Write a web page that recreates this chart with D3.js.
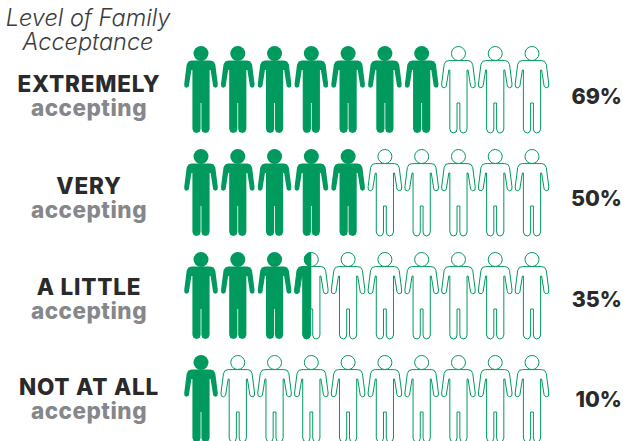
<!DOCTYPE html>
<html>
<head>
<meta charset="utf-8">
<script src="https://cdn.jsdelivr.net/npm/d3@7"></script>
<style>
  html, body { margin: 0; padding: 0; background: #fff; }
  text { font-family: Inter, "Open Sans", sans-serif; }
</style>
</head>
<body>
<script>
const titleLines = ["Level of Family", "Acceptance"];
const levels = ["EXTREMELY", "VERY", "A LITTLE", "NOT AT ALL"];
const subLabel = "accepting";
const percents = [69, 50, 35, 10];
// how many of the ten figures are coloured in each row
const filledIcons = [7, 5, 3.5, 1];
const iconIndex = d3.range(10);

const width = 623;
const height = 441;
const green = "#009a5e";

const svg = d3.select("body").append("svg")
    .attr("width", width)
    .attr("height", height)
    .style("display", "block");

const x = d3.scalePoint().domain(iconIndex).range([201, 532]);
const y = d3.scalePoint().domain(d3.range(levels.length)).range([46, 355]);

// one figure, drawn around x = 0 with the top of the head at y = 0
function bodyPath(slit) {
    const right = [
        [9.5, 14.6], [12.6, 15.4], [14.3, 18.5], [16.8, 38], [16.4, 41], [14.2, 41.8],
        [12.2, 40.4], [9.6, 24], [8.6, 24], [8.6, 83], [7.4, 86], [4.6, 87],
        [slit + 1, 86], [slit, 83], [slit, 57]
    ];
    const left = right.slice().reverse().map(p => [-p[0], p[1]]);
    return d3.line()([[0, 14.6], ...right, ...left]) + "Z";
}

const defs = svg.append("defs");

function drawFigure(g, filled) {
    if (filled) {
        g.append("circle").attr("cx", 0).attr("cy", 7.5).attr("r", 7.5).attr("fill", green);
        g.append("path").attr("d", bodyPath(0.4)).attr("fill", green);
    } else {
        g.append("circle").attr("cx", 0).attr("cy", 7.5).attr("r", 7)
            .attr("fill", "#fff").attr("stroke", green).attr("stroke-width", 1);
        g.append("path").attr("d", bodyPath(1.4))
            .attr("fill", "#fff").attr("stroke", green).attr("stroke-width", 1)
            .attr("stroke-linejoin", "round");
    }
}

levels.forEach((level, r) => {
    const row = svg.append("g").attr("class", "row");
    iconIndex.forEach(i => {
        const g = row.append("g").attr("transform", `translate(${x(i)},${y(r)})`);
        const share = Math.max(0, Math.min(1, filledIcons[r] - i));
        if (share === 1) {
            drawFigure(g, true);
        } else {
            drawFigure(g, false);
            if (share > 0) {
                // part filled figure, cut with a clip
                const id = `clip-${r}-${i}`;
                defs.append("clipPath").attr("id", id).append("rect")
                    .attr("x", -20).attr("y", -2)
                    .attr("width", 40 * share).attr("height", 92);
                const part = g.append("g").attr("clip-path", `url(#${id})`);
                drawFigure(part, true);
            }
        }
    });
});

// labels
const labelY = d3.scaleLinear().domain([0, 1, 2, 3]).range([91.5, 194, 295, 395]);

svg.selectAll(".title")
    .data(titleLines)
    .join("text")
    .attr("class", "title")
    .attr("x", 88)
    .attr("y", (d, i) => 26 + i * 24)
    .attr("text-anchor", "middle")
    .attr("font-size", 23.5)
    .attr("font-weight", 300)
    .attr("font-style", "italic")
    .attr("fill", "#3c3c3e")
    .text(d => d);

svg.selectAll(".level")
    .data(levels)
    .join("text")
    .attr("class", "level")
    .attr("x", 89)
    .attr("y", (d, i) => labelY(i))
    .attr("text-anchor", "middle")
    .attr("font-size", 22.5)
    .attr("font-weight", 800)
    .attr("letter-spacing", 0.8)
    .attr("fill", "#2b2a2b")
    .text(d => d);

svg.selectAll(".sub")
    .data(levels)
    .join("text")
    .attr("class", "sub")
    .attr("x", 89)
    .attr("y", (d, i) => labelY(i) + 24)
    .attr("text-anchor", "middle")
    .attr("font-size", 22.5)
    .attr("font-weight", 800)
    .attr("letter-spacing", 0.5)
    .attr("fill", "#86878a")
    .text(subLabel);

svg.selectAll(".pct")
    .data(percents)
    .join("text")
    .attr("class", "pct")
    .attr("x", 622)
    .attr("y", (d, i) => labelY(i) + 12)
    .attr("text-anchor", "end")
    .attr("font-size", 21.5)
    .attr("font-weight", 800)
    .attr("fill", "#2b2a2b")
    .text(d => d + "%");
</script>
</body>
</html>
